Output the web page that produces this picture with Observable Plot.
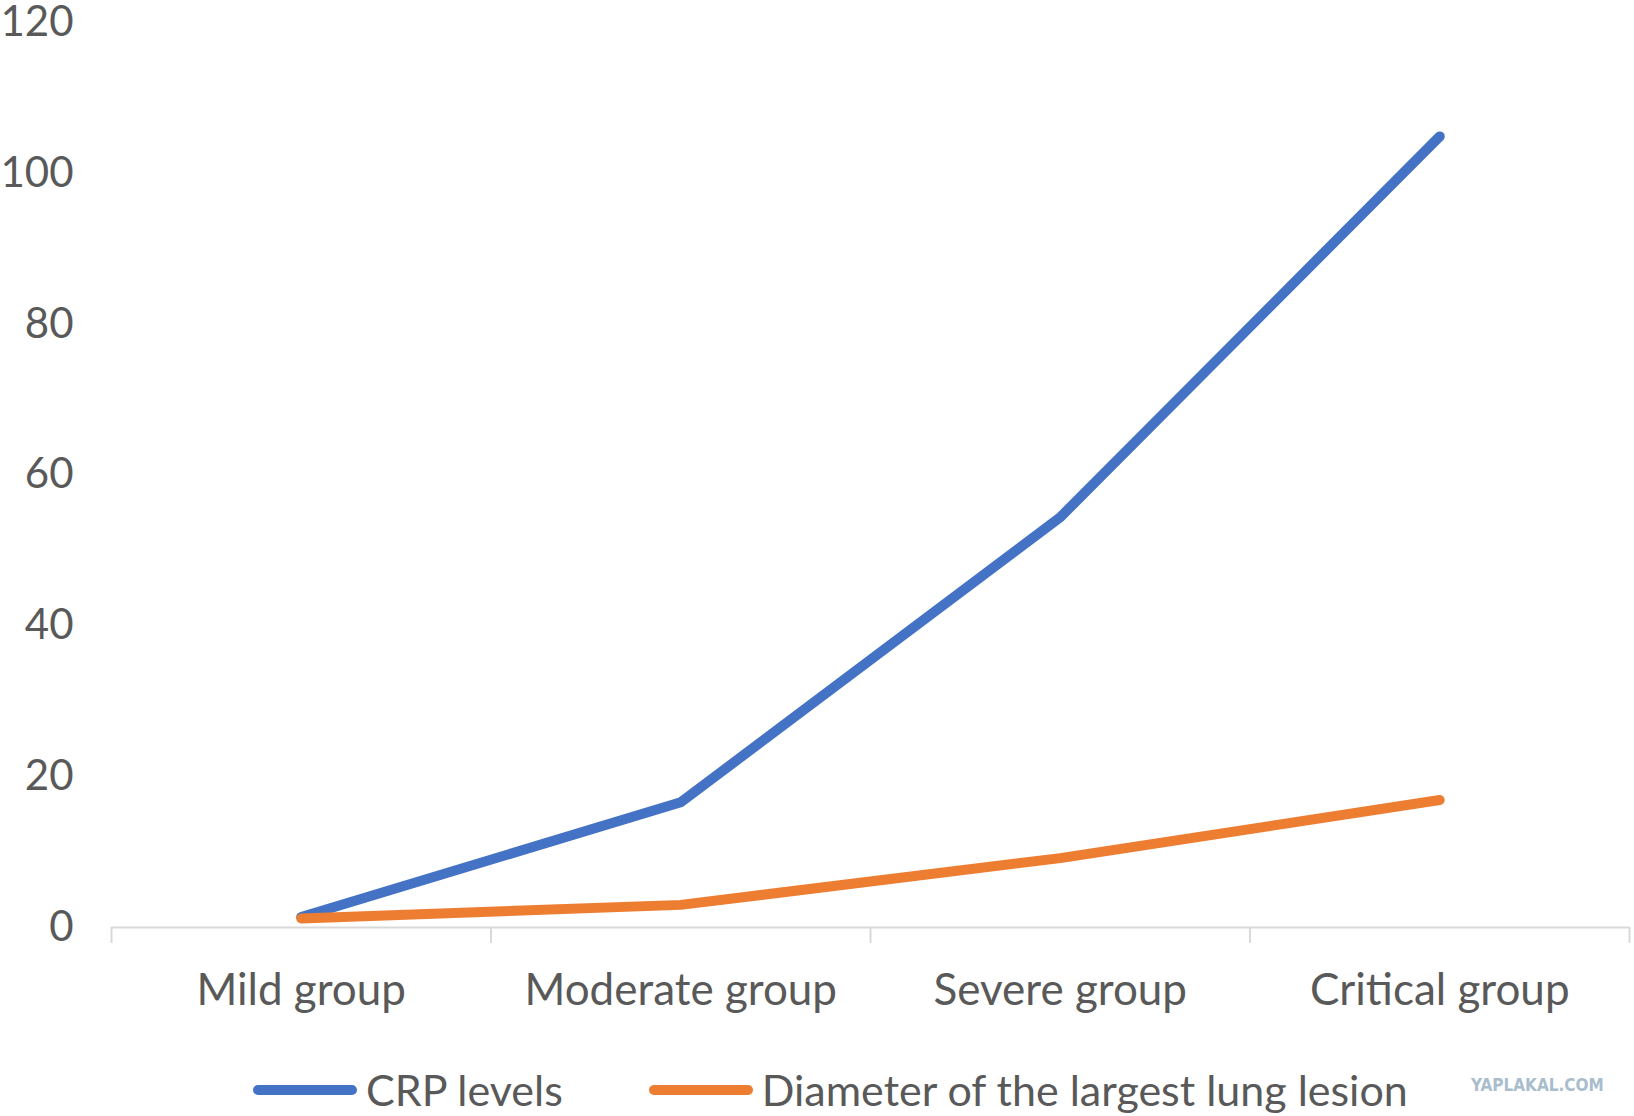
<!DOCTYPE html>
<html><head><meta charset="utf-8">
<script src="https://cdn.jsdelivr.net/npm/d3@7"></script>
<script src="https://cdn.jsdelivr.net/npm/@observablehq/plot@0.6"></script>
<style>
body{margin:0;background:#fff;font-family:Lato, "Open Sans", sans-serif;}
#wrap{position:relative;width:1634px;height:1116px;overflow:hidden;background:#fff;}
#legend{position:absolute;left:253px;top:1066px;height:48px;line-height:48px;display:flex;align-items:center;font-size:43px;color:#595959;}
.item{display:flex;align-items:center;margin-right:86px;}
.sw{width:104px;height:10px;border-radius:5px;margin-right:9px;}
#wm{position:absolute;left:1471px;top:1075px;font-family:"Liberation Sans Narrow","DejaVu Sans Condensed",sans-serif;font-weight:bold;font-size:17px;color:#a9bdcd;letter-spacing:0px;}
</style></head><body>
<div id="wrap"><div id="chart"></div><div id="legend"></div><div id="wm">YAPLAKAL.COM</div></div>
<script>
const categories = ["Mild group", "Moderate group", "Severe group", "Critical group"];
const crpLevels = [1.4, 16.6, 54.4, 104.9];
const lesionDiameter = [1.2, 3.0, 9.2, 16.9];
const seriesNames = ["CRP levels", "Diameter of the largest lung lesion"];
const seriesColors = ["#4472c4", "#ed7d31"];
const yTicks = [0, 20, 40, 60, 80, 100, 120];

const rows = [];
[crpLevels, lesionDiameter].forEach((vals, s) =>
  vals.forEach((v, i) => rows.push({series: seriesNames[s], i, value: v})));
const idx = categories.map((_, i) => i);
const bounds = d3.range(categories.length + 1).map(i => i - 0.5);

const plot = Plot.plot({
  width: 1634, height: 1040,
  marginLeft: 111, marginRight: 5, marginTop: 22, marginBottom: 113,
  style: {fontFamily: "Lato, 'Open Sans', sans-serif", color: "#595959", background: "#fff", overflow: "visible"},
  x: {domain: [-0.5, categories.length - 0.5]},
  y: {domain: [0, 120]},
  color: {domain: seriesNames, range: seriesColors},
  marks: [
    Plot.axisY({ticks: yTicks, tickSize: 0, tickPadding: 38, fontSize: 42, label: null}),
    Plot.axisX({ticks: bounds, tickSize: 16, tickFormat: () => "", stroke: "#d9d9d9", strokeWidth: 2, label: null}),
    Plot.axisX({ticks: idx, tickSize: 0, tickPadding: 46, tickFormat: i => categories[i], fontSize: 44, label: null}),
    Plot.ruleY([0], {stroke: "#d9d9d9", strokeWidth: 2}),
    Plot.line(rows, {x: "i", y: "value", z: "series", stroke: "series", strokeWidth: 10, strokeLinecap: "round", strokeLinejoin: "round"})
  ]
});
document.getElementById("chart").appendChild(plot);

const legend = document.getElementById("legend");
seriesNames.forEach((name, s) => {
  const item = document.createElement("div");
  item.className = "item";
  const sw = document.createElement("div");
  sw.className = "sw";
  sw.style.background = seriesColors[s];
  const label = document.createElement("span");
  label.textContent = name;
  item.appendChild(sw);
  item.appendChild(label);
  legend.appendChild(item);
});
</script>
</body></html>
